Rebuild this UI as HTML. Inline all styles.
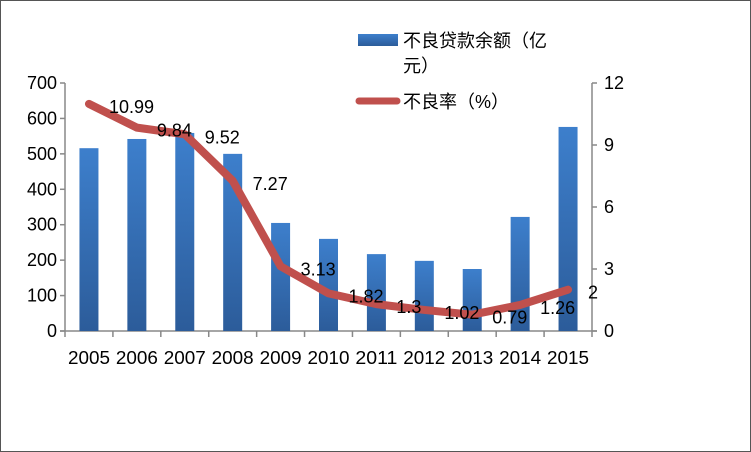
<!DOCTYPE html>
<html><head><meta charset="utf-8"><style>
body{margin:0;background:#fff}
svg{display:block;font-family:"Liberation Sans","Noto Sans CJK SC",sans-serif}
</style></head><body>
<svg id="chart" width="751" height="452" viewBox="0 0 751 452">
<defs>
<linearGradient id="bg" x1="0" y1="0" x2="0" y2="1">
<stop offset="0" stop-color="#3d7fcc"/><stop offset="1" stop-color="#2c5c9a"/>
</linearGradient>
</defs>
<rect x="0.5" y="0.5" width="750" height="451" fill="#fff" stroke="#555" stroke-width="1"/>
<g id="axes"></g>
<g id="bars"></g>
<g id="line"></g>
<g id="labels"></g>
<g>
<rect x="358" y="34" width="40" height="12" fill="url(#bg)"/>
<text x="403" y="47" font-size="18">不良贷款余额（亿</text>
<text x="403" y="72" font-size="18">元）</text>
<line x1="359" y1="101" x2="397" y2="101" stroke="#c0504d" stroke-width="7" stroke-linecap="round"/>
<text x="403" y="108" font-size="18">不良率（%）</text>
</g>
</svg>
<script>
const categories=["2005","2006","2007","2008","2009","2010","2011","2012","2013","2014","2015"];
const loanValues=[516,542,559,500,305,260,217,198,175,322,576];
const rateValues=[10.99,9.84,9.52,7.27,3.13,1.82,1.3,1.02,0.79,1.26,2];
const leftTicks=[0,100,200,300,400,500,600,700];
const rightTicks=[0,3,6,9,12];
const NS="http://www.w3.org/2000/svg";
const X0=65,X1=592,Y0=331,Y1=83;
const bw=(X1-X0)/categories.length;
const xc=i=>X0+bw*(i+0.5);
const yL=v=>Y0-(v/700)*(Y0-Y1);
const yR=v=>Y0-(v/12)*(Y0-Y1);
function mk(tag,attrs,parent){const e=document.createElementNS(NS,tag);for(const k in attrs)e.setAttribute(k,attrs[k]);parent.appendChild(e);return e;}
const axes=document.getElementById('axes');
let a=mk('line',{x1:X0,y1:Y1,x2:X0,y2:Y0,stroke:'#888','stroke-width':1.5},axes);


a=mk('line',{x1:X1,y1:Y1,x2:X1,y2:Y0,stroke:'#888','stroke-width':1.5},axes);


a=mk('line',{x1:X0-5,y1:Y0,x2:X1+5,y2:Y0,stroke:'#888','stroke-width':1.5},axes);


leftTicks.forEach(v=>{
 const y=yL(v);
 mk('line',{x1:X0-5,y1:y,x2:X0,y2:y,stroke:'#888','stroke-width':1.5},axes);
 const t=mk('text',{x:X0-8,y:y+6,'font-size':18,'text-anchor':'end'},axes);
 t.textContent=v;
 
 
});
rightTicks.forEach(v=>{
 const y=yR(v);
 mk('line',{x1:X1,y1:y,x2:X1+5,y2:y,stroke:'#888','stroke-width':1.5},axes);
 const t=mk('text',{x:X1+12,y:y+6,'font-size':18},axes);
 t.textContent=v;
 
 
});
for(let i=0;i<=categories.length;i++){
 mk('line',{x1:X0+bw*i,y1:Y0,x2:X0+bw*i,y2:Y0+6,stroke:'#888','stroke-width':1.5},axes);
}
categories.forEach((c,i)=>{
 const t=mk('text',{x:xc(i),y:364,'font-size':18,'text-anchor':'middle',textLength:42,lengthAdjust:'spacingAndGlyphs'},axes);
 t.textContent=c;
 
 
});
const bars=document.getElementById('bars');
loanValues.forEach((v,i)=>{
 const r=mk('rect',{x:xc(i)-9.5,y:yL(v),width:19,height:Y0-yL(v),fill:'url(#bg)'},bars);
 
 
});
const pts=rateValues.map((v,i)=>xc(i)+','+yR(v)).join(' ');
const pl=mk('polyline',{points:pts,fill:'none',stroke:'#c0504d','stroke-width':8,'stroke-linejoin':'round','stroke-linecap':'round'},document.getElementById('line'));


const lab=document.getElementById('labels');
rateValues.forEach((v,i)=>{
 const t=mk('text',{x:xc(i)+20,y:yR(v)+9,'font-size':18},lab);
 t.textContent=v;
 
 
});
</script>
</body></html>
